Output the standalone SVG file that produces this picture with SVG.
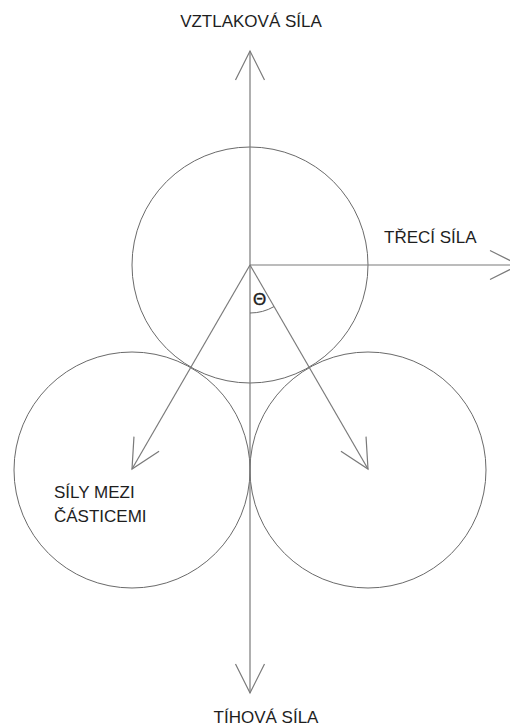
<svg xmlns="http://www.w3.org/2000/svg" width="510" height="726" viewBox="0 0 510 726">
<style>
.c{fill:none;stroke:#6a6a6a;stroke-width:1}
.a{fill:none;stroke:#7a7a7a;stroke-width:1.2}
.t{font-family:"Liberation Sans",Arial,sans-serif;font-size:17px;fill:#1e1e1e}
</style>
<defs>
<marker id="ah" markerUnits="userSpaceOnUse" viewBox="-31 -16 33 32" refX="0" refY="0" markerWidth="33" markerHeight="32" orient="auto" overflow="visible">
<path d="M-29,-14.5 L0,0 L-29,14.5" fill="none" stroke="#7a7a7a" stroke-width="1.2"/>
</marker>
</defs>
<rect width="510" height="726" fill="#fff"/>
<g id="particle-top"><circle class="c" cx="250" cy="265" r="118"/></g>
<g id="particle-left"><circle class="c" cx="132" cy="470" r="118"/></g>
<g id="particle-right"><circle class="c" cx="368" cy="470" r="118"/></g>
<g id="connectors">
<line class="a" x1="250" y1="265" x2="250" y2="51" marker-end="url(#ah)"/>
<line class="a" x1="250" y1="265" x2="250" y2="693" marker-end="url(#ah)"/>
<line class="a" x1="250" y1="265" x2="519" y2="265" marker-end="url(#ah)"/>
<line class="a" x1="250" y1="265" x2="132" y2="469" marker-end="url(#ah)"/>
<line class="a" x1="250" y1="265" x2="368" y2="469" marker-end="url(#ah)"/>
<path class="c" d="M250,313 A48,48 0 0 0 274,306.6"/>
</g>
<g id="label-vztlakova"><text class="t" x="251" y="27" text-anchor="middle">VZTLAKOVÁ SÍLA</text></g>
<g id="label-treci"><text class="t" x="384" y="243">TŘECÍ SÍLA</text></g>
<g id="label-theta"><text class="t" x="259.5" y="304.5" text-anchor="middle" style="font-size:17px;stroke:#1e1e1e;stroke-width:0.4">Θ</text></g>
<g id="label-sily"><text class="t" x="54" y="498">SÍLY MEZI</text><text class="t" x="54" y="522">ČÁSTICEMI</text></g>
<g id="label-tihova"><text class="t" x="266" y="722.5" text-anchor="middle">TÍHOVÁ SÍLA</text></g>
</svg>
